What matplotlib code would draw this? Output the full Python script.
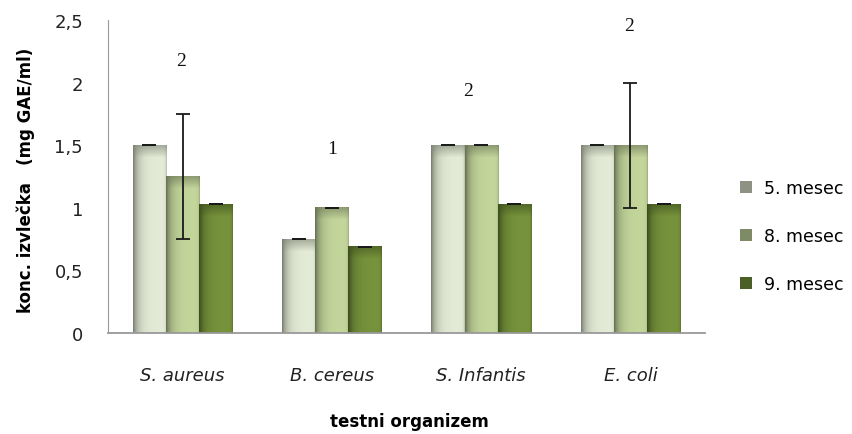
import numpy as np
import matplotlib
matplotlib.use("Agg")
import matplotlib.pyplot as plt
from matplotlib.patches import Patch
from matplotlib.colors import to_rgb

categories = ["S. aureus", "B. cereus", "S. Infantis", "E. coli"]
series = ["5. mesec", "8. mesec", "9. mesec"]
v5 = [1.5, 0.75, 1.5, 1.5]
v8 = [1.25, 1.0, 1.5, 1.5]
v9 = [1.03, 0.69, 1.03, 1.03]
e5 = [0, 0, 0, 0]
e8 = [0.5, 0, 0, 0.5]
e9 = [0, 0, 0, 0]
notes = ["2", "1", "2", "2"]
note_y = [2.18, 1.47, 1.94, 2.46]
note_dx = [-0.01, 0.0, -0.09, -0.01]

values = [v5, v8, v9]
errors = [e5, e8, e9]
base_cols = ["#E4EBD6", "#C3D69B", "#77933C"]
edge_cols = ["#7E8474", "#6B7556", "#3C4F1C"]
legend_cols = ["#8D9282", "#7F8B66", "#4B5F27"]

plt.rcParams['font.family'] = ['DejaVu Sans']
fig = plt.figure(figsize=(8.53, 4.35), dpi=100)
ax = fig.add_axes([0.1266, 0.2322, 0.6999, 0.7195])

x = np.arange(len(categories))
bw = 0.222
ymax = 2.5

def grad_img(base, edge, h):
    base = np.array(to_rgb(base)); edge = np.array(to_rgb(edge))
    nx = 33
    ny = max(int(round(h * 125)), 2)
    xs = np.linspace(0, 1, nx)
    wx = np.exp(-xs / 0.16)
    wx = wx + 0.35 * np.exp(-(1 - xs) / 0.03)
    wx = np.clip(wx, 0, 1)
    rows = np.arange(ny)
    wy = np.clip(1 - rows / 12.0, 0, 1) * 0.6
    W = np.clip(wx[None, :] + wy[:, None] * (1 - wx[None, :]), 0, 1)
    img = base[None, None, :] * (1 - W[..., None]) + edge[None, None, :] * W[..., None]
    return img

for i, (vals, errs) in enumerate(zip(values, errors)):
    offs = (i - 1) * bw
    for j, v in enumerate(vals):
        x0 = x[j] + offs - bw / 2
        img = grad_img(base_cols[i], edge_cols[i], v)
        ax.imshow(img, extent=[x0, x0 + bw, 0, v], aspect='auto',
                  origin='upper', interpolation='bilinear', zorder=2)
    ax.errorbar(x + offs, vals, yerr=errs, fmt='none', ecolor='#1a1a1a',
                elinewidth=1.3, capsize=4.7, capthick=1.3, zorder=4)

for j, t in enumerate(notes):
    ax.text(x[j] + note_dx[j], note_y[j], t, ha='center', va='center',
            fontsize=14, family=['Liberation Serif', 'DejaVu Serif'], color='#111111')

ax.set_xlim(-0.5, len(categories) - 0.5)
ax.set_ylim(0, ymax)
ax.set_yticks([0, 0.5, 1, 1.5, 2, 2.5])
ax.set_yticklabels(["0", "0,5", "1", "1,5", "2", "2,5"], fontsize=13, color='#222222')
ax.set_xticks(x)
ax.set_xticklabels(categories, fontsize=13, style='italic', color='#222222')
ax.tick_params(axis='y', length=0, pad=18)
ax.tick_params(axis='x', length=0, pad=24)
for s in ['top', 'right']:
    ax.spines[s].set_visible(False)
ax.spines['left'].set_color('#999999')
ax.spines['bottom'].set_color('#999999')
ax.spines['bottom'].set_linewidth(1.3)
ax.spines['bottom'].set_zorder(5)

ax.set_ylabel("konc. izvlečka   (mg GAE/ml)", fontsize=12, fontweight='bold')
ax.yaxis.set_label_coords(-0.138, 0.49)
ax.yaxis.label.set_verticalalignment('center')
ax.set_xlabel("testni organizem", fontsize=12, fontweight='bold')
ax.xaxis.set_label_coords(0.505, -0.281)
ax.xaxis.label.set_verticalalignment('center')

handles = [Patch(facecolor=c, edgecolor='none') for c in legend_cols]
leg = fig.legend(handles, series, loc='center left', bbox_to_anchor=(0.849, 0.455),
                 frameon=False, fontsize=12.5, handlelength=0.7, handleheight=0.7,
                 labelspacing=1.75, handletextpad=0.7)

fig.savefig("out.png", dpi=100)
